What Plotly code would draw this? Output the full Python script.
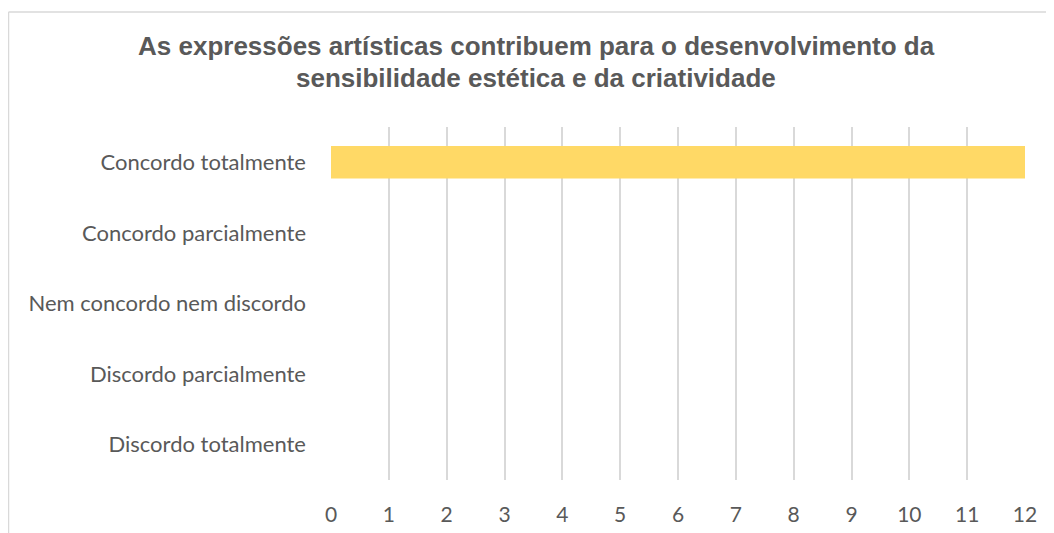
import plotly.graph_objects as go

categories = ["Concordo totalmente", "Concordo parcialmente", "Nem concordo nem discordo",
              "Discordo parcialmente", "Discordo totalmente"]
values = [12, 0, 0, 0, 0]
x_ticks = list(range(0, 13))
title_lines = ["As expressões artísticas contribuem para o desenvolvimento da",
               "sensibilidade estética e da criatividade"]

W, H = 1054, 533
L, R, T, B = 323, 37, 119, 61
pw, ph = W - L - R, H - T - B

def px_x(p):
    return (p - L) / pw

def px_y(p):
    return (H - B - p) / ph

fig = go.Figure(go.Bar(
    x=values, y=categories, orientation="h",
    marker=dict(color="#FFD966", line=dict(width=0)),
    width=0.46,
))

title_font = dict(family="Liberation Sans", size=26, color="#595959", weight="bold")
annotations = [
    dict(text=title_lines[0], xref="paper", yref="paper", x=px_x(528), y=px_y(38),
         xanchor="center", yanchor="middle", showarrow=False, font=title_font),
    dict(text=title_lines[1], xref="paper", yref="paper", x=px_x(528), y=px_y(69.5),
         xanchor="center", yanchor="middle", showarrow=False, font=title_font),
]

fig.update_layout(
    width=W, height=H,
    margin=dict(l=L, r=R, t=T, b=B),
    paper_bgcolor="white", plot_bgcolor="white",
    showlegend=False,
    font=dict(family="Lato", color="#595959", size=22),
    xaxis=dict(range=[0, 12], tickvals=x_ticks, showgrid=True, gridcolor="#D9D9D9", gridwidth=1.5,
               zeroline=False, showline=False, ticks="", ticklabelstandoff=20,
               tickfont=dict(size=21, color="#595959")),
    yaxis=dict(categoryorder="array", categoryarray=categories, autorange="reversed",
               showgrid=False, zeroline=False, showline=False, ticks="", ticklabelstandoff=24,
               tickfont=dict(size=22, color="#595959")),
    annotations=annotations,
    shapes=[
        dict(type="line", xref="paper", yref="paper", x0=px_x(0.5), x1=px_x(0.5),
             y0=px_y(4), y1=px_y(560), line=dict(color="#D9D9D9", width=1.5)),
        dict(type="line", xref="paper", yref="paper", x0=px_x(0.5), x1=px_x(1080),
             y0=px_y(4), y1=px_y(4), line=dict(color="#D9D9D9", width=1.5)),
    ],
)

fig.write_html("out.html")
